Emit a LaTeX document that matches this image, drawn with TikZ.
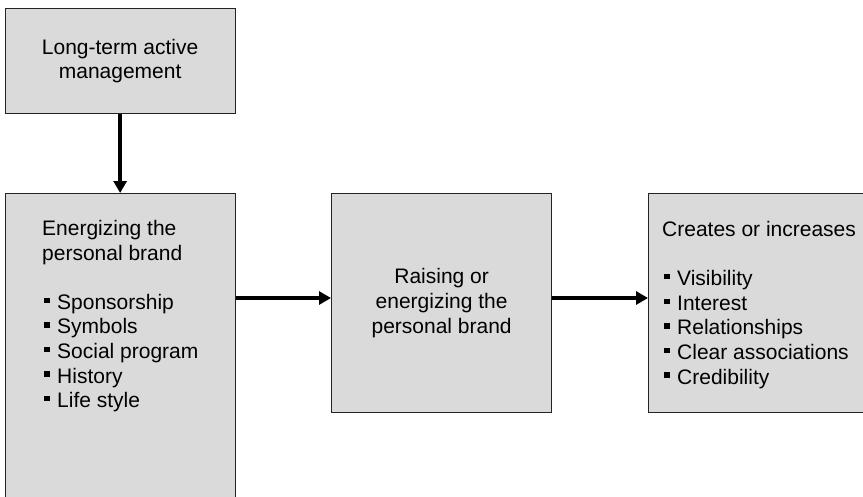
\documentclass[tikz,border=0pt]{standalone}
\usepackage{fontspec}
\setmainfont{Liberation Sans}
\usetikzlibrary{arrows.meta}
\definecolor{boxfill}{RGB}{218,218,218}
\definecolor{boxline}{RGB}{35,35,35}
\newcommand\blt{\makebox[15pt][l]{\hspace{2pt}\rule[6.3pt]{5.5pt}{5.3pt}}}
\tikzset{
  box/.style={draw=boxline, fill=boxfill, line width=1.3pt, inner sep=0pt, anchor=north west},
  txt/.style={font=\fontsize{21}{24.6}\selectfont, inner sep=0pt},
  arr/.style={line width=4.2pt, -{Triangle[length=12pt,width=13pt]}, black}
}
\begin{document}
\begin{tikzpicture}[x=1pt,y=-1pt]
\useasboundingbox (0,0) rectangle (863,496);
\clip (0,0) rectangle (863,496);
\fill[white] (0,0) rectangle (863,496);
% boxes
\node[box, txt, align=center, minimum width=230, minimum height=105] (top) at (4.5,8)
  {Long-term active\\management};
\node[box, minimum width=230, minimum height=330] (left) at (4.5,193) {};
\node[box, txt, align=center, minimum width=220, minimum height=219] (mid) at (331,193)
  {Raising or\\energizing the\\personal brand};
\node[box, minimum width=240, minimum height=219] (right) at (648,193) {};
% texts
\node[txt, align=left, anchor=north west] (lefttxt) at (42,220)
  {Energizing the\\personal brand\\[24.6pt]\blt Sponsorship\\\blt Symbols\\\blt Social program\\\blt History\\\blt Life style};
\node[txt, align=left, anchor=north west] (righttxt) at (662,221)
  {Creates or increases\\[24.6pt]\blt Visibility\\\blt Interest\\\blt Relationships\\\blt Clear associations\\\blt Credibility};
% connectors
\coordinate (ay) at (0,298);
\draw[arr] (top.south) -- (left.north);
\draw[arr] (left.east |- ay) -- (mid.west |- ay);
\draw[arr] (mid.east |- ay) -- (right.west |- ay);
\end{tikzpicture}
\end{document}
